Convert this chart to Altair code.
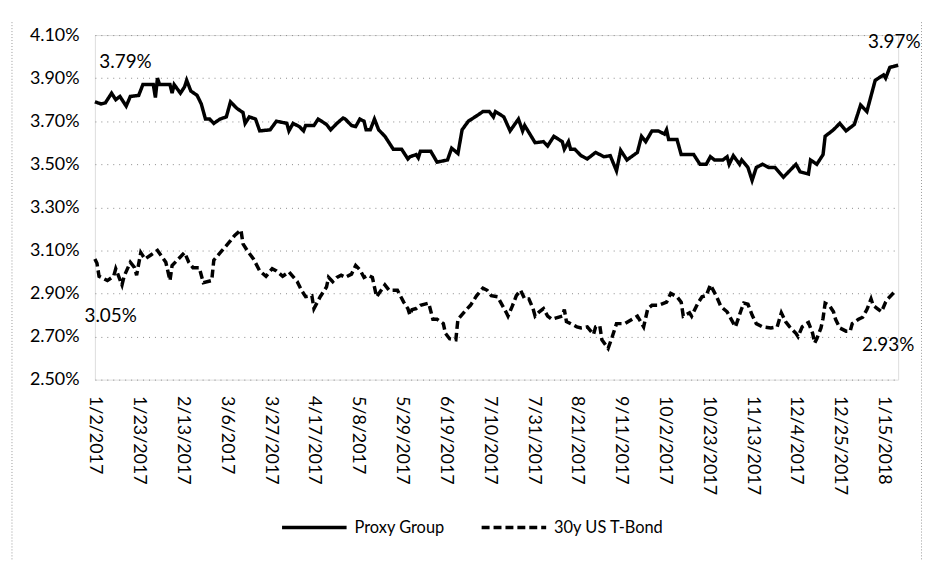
import altair as alt
import pandas as pd

# ---------------- data ----------------
start_date = "2017-01-02"
end_date = "2018-01-22"
series_names = ["Proxy Group", "30y US T-Bond"]

# day offsets from start_date and values (%)
proxy_day = [0, 3, 5, 8, 10, 12, 15, 17, 21, 23, 25, 28, 29, 30, 31, 36, 37, 38, 41, 43,
             44, 46, 49, 51, 53, 55, 57, 60, 63, 65, 68, 71, 72, 74, 77, 79, 84, 87, 92, 93,
             95, 98, 100, 101, 105, 107, 111, 113, 116, 119, 120, 123, 125, 127, 129, 130, 132, 134, 136, 139,
             143, 147, 150, 151, 154, 155, 156, 161, 164, 169, 171, 174, 176, 179, 183, 186, 189, 191, 192, 196,
             199, 203, 205, 206, 211, 215, 217, 220, 224, 225, 227, 228, 230, 233, 236, 240, 244, 247, 250, 252,
             255, 260, 262, 264, 267, 270, 273, 274, 275, 279, 281, 287, 290, 293, 295, 297, 301, 303, 304, 306,
             309, 310, 313, 315, 317, 320, 323, 326, 330, 332, 336, 338, 342, 343, 346, 349, 350, 354, 357, 360,
             364, 367, 370, 374, 378, 379, 381, 385]
proxy_val = [3.79, 3.78, 3.785, 3.83, 3.80, 3.815, 3.77, 3.815, 3.82, 3.87, 3.87, 3.87, 3.81, 3.90, 3.87, 3.87, 3.83, 3.87, 3.83, 3.86,
             3.89, 3.84, 3.82, 3.78, 3.71, 3.71, 3.69, 3.71, 3.72, 3.79, 3.76, 3.74, 3.69, 3.72, 3.71, 3.655, 3.66, 3.70, 3.69, 3.655,
             3.69, 3.675, 3.655, 3.68, 3.68, 3.71, 3.685, 3.66, 3.69, 3.715, 3.71, 3.68, 3.675, 3.71, 3.70, 3.66, 3.66, 3.71, 3.66, 3.63,
             3.57, 3.57, 3.525, 3.535, 3.545, 3.53, 3.56, 3.56, 3.51, 3.52, 3.575, 3.55, 3.66, 3.70, 3.725, 3.745, 3.745, 3.72, 3.745, 3.72,
             3.655, 3.71, 3.655, 3.68, 3.60, 3.605, 3.585, 3.63, 3.605, 3.57, 3.605, 3.57, 3.57, 3.54, 3.525, 3.555, 3.535, 3.54, 3.47, 3.565,
             3.52, 3.555, 3.63, 3.605, 3.655, 3.655, 3.64, 3.66, 3.615, 3.615, 3.545, 3.545, 3.50, 3.50, 3.535, 3.52, 3.52, 3.535, 3.50, 3.54,
             3.50, 3.52, 3.485, 3.425, 3.485, 3.50, 3.485, 3.485, 3.44, 3.46, 3.50, 3.465, 3.455, 3.52, 3.50, 3.545, 3.63, 3.66, 3.69, 3.655,
             3.685, 3.775, 3.745, 3.89, 3.915, 3.90, 3.95, 3.96]

bond_day = [0, 1, 2, 6, 9, 10, 13, 14, 17, 19, 20, 22, 24, 27, 30, 34, 36, 37, 43, 45,
            47, 50, 52, 56, 57, 61, 65, 67, 70, 71, 73, 76, 79, 82, 85, 87, 90, 93, 97, 99,
            101, 104, 105, 108, 111, 112, 114, 116, 118, 120, 123, 125, 127, 129, 131, 133, 135, 139, 141, 145,
            148, 150, 151, 152, 154, 156, 160, 162, 164, 167, 168, 170, 173, 174, 178, 180, 183, 186, 188, 190,
            193, 197, 198, 200, 202, 204, 206, 208, 210, 211, 213, 215, 217, 219, 224, 225, 226, 231, 233, 236,
            239, 240, 242, 243, 246, 248, 250, 254, 260, 263, 265, 267, 270, 274, 276, 279, 281, 282, 285, 286,
            289, 291, 293, 295, 298, 300, 303, 305, 307, 310, 311, 313, 315, 317, 320, 324, 327, 329, 331, 333,
            336, 337, 339, 341, 342, 344, 345, 346, 348, 349, 350, 352, 354, 355, 357, 360, 362, 363, 366, 368,
            370, 372, 373, 375, 377, 379, 380, 383]
bond_val = [3.06, 3.04, 2.98, 2.96, 2.98, 3.015, 2.94, 2.98, 3.045, 3.02, 2.985, 3.09, 3.06, 3.08, 3.10, 3.045, 2.96, 3.03, 3.09, 3.045,
            3.02, 3.02, 2.95, 2.96, 3.055, 3.10, 3.145, 3.17, 3.195, 3.13, 3.10, 3.06, 3.005, 2.98, 3.015, 3.005, 2.98, 3.00, 2.955, 2.915,
            2.885, 2.89, 2.83, 2.885, 2.93, 2.975, 2.955, 2.975, 2.985, 2.975, 2.99, 3.03, 3.01, 2.975, 2.985, 2.975, 2.885, 2.94, 2.915, 2.915,
            2.86, 2.83, 2.80, 2.825, 2.83, 2.845, 2.855, 2.78, 2.78, 2.76, 2.715, 2.69, 2.685, 2.78, 2.825, 2.845, 2.89, 2.925, 2.915, 2.89,
            2.885, 2.815, 2.795, 2.84, 2.89, 2.915, 2.875, 2.875, 2.83, 2.795, 2.815, 2.83, 2.795, 2.78, 2.795, 2.825, 2.77, 2.745, 2.74, 2.745,
            2.71, 2.745, 2.75, 2.685, 2.645, 2.70, 2.76, 2.76, 2.795, 2.745, 2.83, 2.845, 2.845, 2.86, 2.90, 2.885, 2.86, 2.795, 2.81, 2.795,
            2.855, 2.885, 2.89, 2.94, 2.885, 2.84, 2.815, 2.78, 2.745, 2.83, 2.855, 2.85, 2.80, 2.76, 2.745, 2.74, 2.745, 2.81, 2.77, 2.745,
            2.715, 2.70, 2.745, 2.76, 2.765, 2.715, 2.67, 2.69, 2.74, 2.785, 2.855, 2.845, 2.815, 2.78, 2.74, 2.725, 2.725, 2.76, 2.78, 2.79,
            2.825, 2.875, 2.845, 2.83, 2.815, 2.86, 2.875, 2.905]

x_tick_labels = ["1/2/2017", "1/23/2017", "2/13/2017", "3/6/2017", "3/27/2017", "4/17/2017",
                 "5/8/2017", "5/29/2017", "6/19/2017", "7/10/2017", "7/31/2017", "8/21/2017",
                 "9/11/2017", "10/2/2017", "10/23/2017", "11/13/2017", "12/4/2017", "12/25/2017",
                 "1/15/2018"]
y_ticks = [2.5, 2.7, 2.9, 3.1, 3.3, 3.5, 3.7, 3.9, 4.1]
# end-point annotations: proxy first, proxy last, bond first, bond last
ann_labels = ["3.79%", "3.97%", "3.05%", "2.93%"]

# ---------------- build tables ----------------
t0 = pd.Timestamp(start_date)


def to_dates(days):
    return [t0 + pd.Timedelta(days=d) for d in days]


df = pd.concat([
    pd.DataFrame({"date": to_dates(proxy_day), "value": proxy_val, "series": series_names[0]}),
    pd.DataFrame({"date": to_dates(bond_day), "value": bond_val, "series": series_names[1]}),
], ignore_index=True)


def dt(s):
    m, d, y = s.split("/")
    return alt.DateTime(year=int(y), month=int(m), date=int(d))


def dt_iso(s):
    ts = pd.Timestamp(s)
    return alt.DateTime(year=ts.year, month=ts.month, date=ts.day)


tick_values = [dt(s) for s in x_tick_labels]

FONT = "Lato"

x_enc = alt.X(
    "date:T",
    scale=alt.Scale(domain=[dt_iso(start_date), dt_iso(end_date)], nice=False),
    axis=alt.Axis(values=tick_values, format="%-m/%-d/%Y", labelAngle=90, labelAlign="left",
                  labelBaseline="middle", labelPadding=16, ticks=False, domain=False, grid=False,
                  title=None, labelFont=FONT, labelFontSize=18, labelColor="black",
                  labelOverlap=False, labelFlush=False),
)
y_enc = alt.Y(
    "value:Q",
    scale=alt.Scale(domain=[2.5, 4.1], nice=False, zero=False),
    axis=alt.Axis(values=y_ticks, labelExpr="format(datum.value, '.2f') + '%'", ticks=False,
                  domain=False, grid=True, gridDash=[1, 5], gridColor="#8a8a8a", gridWidth=1,
                  labelPadding=16, title=None, labelFont=FONT, labelFontSize=18, labelColor="black"),
)

lines = alt.Chart(df).mark_line(color="black", strokeWidth=3.5).encode(
    x=x_enc,
    y=y_enc,
    strokeDash=alt.StrokeDash(
        "series:N",
        scale=alt.Scale(domain=series_names, range=[[1, 0], [8, 4]]),
        legend=alt.Legend(orient="none", legendX=186.5, legendY=461.5, direction="horizontal",
                          title=None, symbolType="stroke", symbolSize=4225, symbolStrokeWidth=3.5,
                          symbolStrokeColor="black", labelFont=FONT, labelFontSize=16.5,
                          labelColor="black", columnPadding=30, labelOffset=6, padding=0),
    ),
)

# annotation anchors taken from series' first/last points
ann_points = [
    (proxy_day[0], proxy_val[0]),
    (proxy_day[-1], proxy_val[-1]),
    (bond_day[0], bond_val[0]),
    (bond_day[-1], bond_val[-1]),
]
ann_styles = [
    dict(align="left", dx=4.5, dy=-40.5),
    dict(align="right", dx=22.5, dy=-23.6),
    dict(align="left", dx=-10.5, dy=57),
    dict(align="right", dx=20.5, dy=52.7),
]
ann_layers = []
for (d, v), lab, st in zip(ann_points, ann_labels, ann_styles):
    adf = pd.DataFrame({"date": to_dates([d]), "value": [v], "label": [lab]})
    ann_layers.append(
        alt.Chart(adf).mark_text(font=FONT, fontSize=19, color="black", baseline="middle", **st)
        .encode(x="date:T", y="value:Q", text="label:N")
    )

one = pd.DataFrame({"k": [0]})
border_left = alt.Chart(one).mark_rule(color="#9a9a9a", strokeDash=[1, 2], strokeWidth=1).encode(
    x=alt.value(-83.5), y=alt.value(-13), y2=alt.value(530))
border_right = alt.Chart(one).mark_rule(color="#9a9a9a", strokeDash=[1, 2], strokeWidth=1).encode(
    x=alt.value(832.5), y=alt.value(-13), y2=alt.value(530))

chart = alt.layer(lines, *ann_layers, border_left, border_right).properties(
    width=809,
    height=347,
    autosize=alt.AutoSizeParams(type="none"),
    padding={"left": 87.5, "top": 25.3, "right": 24, "bottom": 180},
).configure_view(stroke=None).configure(font=FONT)

chart.save("out.html", embed_options={"renderer": "svg", "actions": False})
